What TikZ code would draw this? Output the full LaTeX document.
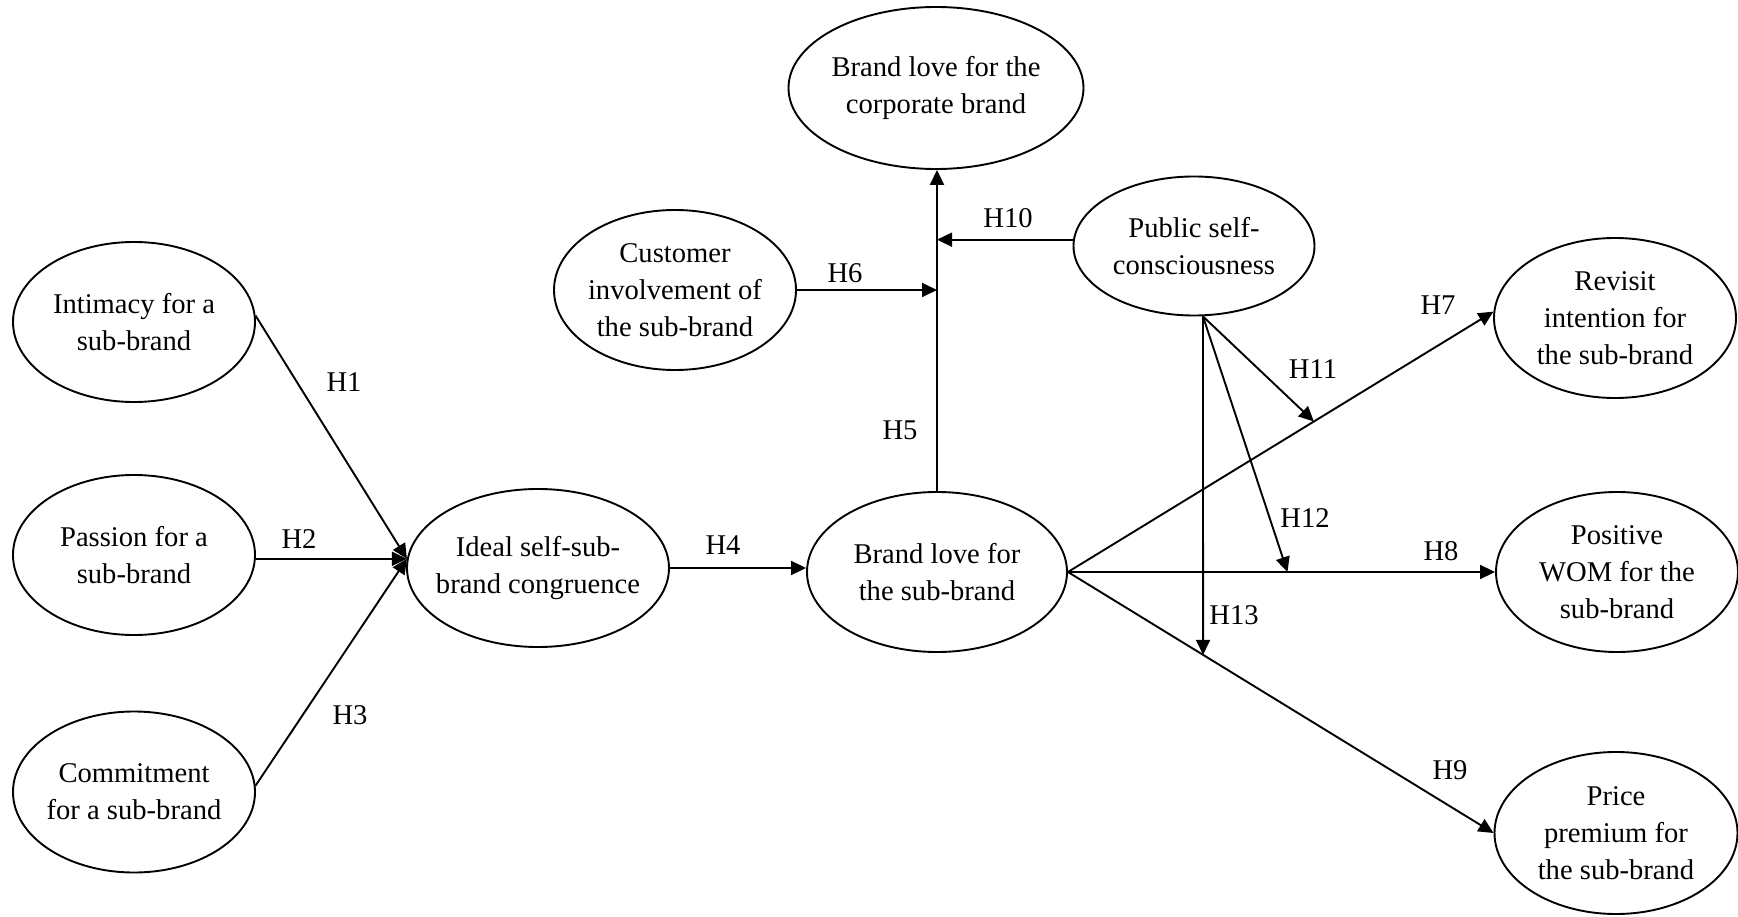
\documentclass[tikz,border=0pt]{standalone}
\usepackage{fontspec}
\setmainfont{Liberation Serif}
\usetikzlibrary{shapes.geometric,arrows.meta,calc}
\begin{document}
\begin{tikzpicture}[x=1pt,y=-1pt,
  every node/.style={font=\fontsize{28.6}{37}\selectfont},
  construct/.style={draw,ellipse,line width=1.9pt,inner sep=0pt,
    minimum width=242pt,minimum height=160pt},
  ctext/.style={align=center,inner sep=0pt},
  hyp/.style={line width=1.9pt,-{Triangle[length=15pt,width=14pt]}},
  hlab/.style={inner sep=0pt}]
\useasboundingbox (0,0) rectangle (1738,917);

% constructs
\node[construct,label={[ctext]center:{Intimacy for a\\sub-brand}}] (intim) at (134,322) {};
\node[construct,label={[ctext]center:{Passion for a\\sub-brand}}] (passion) at (134,555) {};
\node[construct,minimum height=161pt,label={[ctext]center:{Commitment\\for a sub-brand}}] (commit) at (134,792) {};
\node[construct,minimum width=262pt,minimum height=158pt,label={[ctext]center:{Ideal self-sub-\\brand congruence}}] (ideal) at (538,568) {};
\node[construct,minimum width=260pt,label={[ctext]center:{Brand love for\\the sub-brand}}] (bl) at (937,572) {};
\node[construct,minimum width=295pt,minimum height=162pt,label={[ctext]center:{Brand love for the\\corporate brand}}] (corp) at (936,88) {};
\node[construct,label={[ctext]center:{Customer\\involvement of\\the sub-brand}}] (cust) at (675,290) {};
\node[construct,minimum width=241pt,minimum height=139pt,label={[ctext]center:{Public self-\\consciousness}}] (public) at (1194,246) {};
\node[construct,label={[ctext]center:{Revisit\\intention for\\the sub-brand}}] (revisit) at (1615,318) {};
\node[construct,label={[ctext]center:{Positive\\WOM for the\\sub-brand}}] (positive) at (1617,572) {};
\node[construct,minimum width=243pt,minimum height=162pt,label={[ctext]center:{Price\\premium for\\the sub-brand}}] (price) at (1616,833) {};

% helper points
\coordinate (conv) at (ideal.176);
\coordinate (ps) at ($(public.south)+(9,0)$);
\coordinate (psd) at ($(ps)+(0,500)$);
\coordinate (h11) at ($(bl.east)!0.578!(revisit.177)$);
\coordinate (h12) at ($(bl.east)!0.514!(positive.west)$);
\coordinate (h13) at (intersection of ps--psd and bl.east--price.west);

% paths
\draw[hyp] (intim.3) -- (conv);
\draw[hyp] (conv -| passion.east) -- (conv);
\draw[hyp] (commit.3) -- (conv);
\draw[hyp] (ideal.east) -- (ideal.east -| bl.west);
\draw[hyp] (bl.north) -- (bl.north |- corp.south);
\draw[hyp] (cust.east) -- (cust.east -| bl.north);
\draw[hyp] (public.177) -- (public.177 -| bl.north);
\draw[hyp] (bl.east) -- (revisit.177);
\draw[hyp] (bl.east) -- (positive.west);
\draw[hyp] (bl.east) -- (price.west);
\draw[hyp] (ps) -- (h11);
\draw[hyp] (ps) -- (h12);
\draw[hyp] (ps) -- (h13);

% hypothesis labels
\node[hlab] (l1) at (344,382) {H1};
\node[hlab] (l2) at (299,539) {H2};
\node[hlab] (l3) at (350,715) {H3};
\node[hlab] (l4) at (723,545) {H4};
\node[hlab] (l5) at (900,430) {H5};
\node[hlab] (l6) at (845,273) {H6};
\node[hlab] (l7) at (1438,305) {H7};
\node[hlab] (l8) at (1441,551) {H8};
\node[hlab] (l9) at (1450,770) {H9};
\node[hlab] (l10) at (1008,218) {H10};
\node[hlab] (l11) at (1313,369) {H11};
\node[hlab] (l12) at (1305,518) {H12};
\node[hlab] (l13) at (1234,615) {H13};
\end{tikzpicture}
\end{document}
